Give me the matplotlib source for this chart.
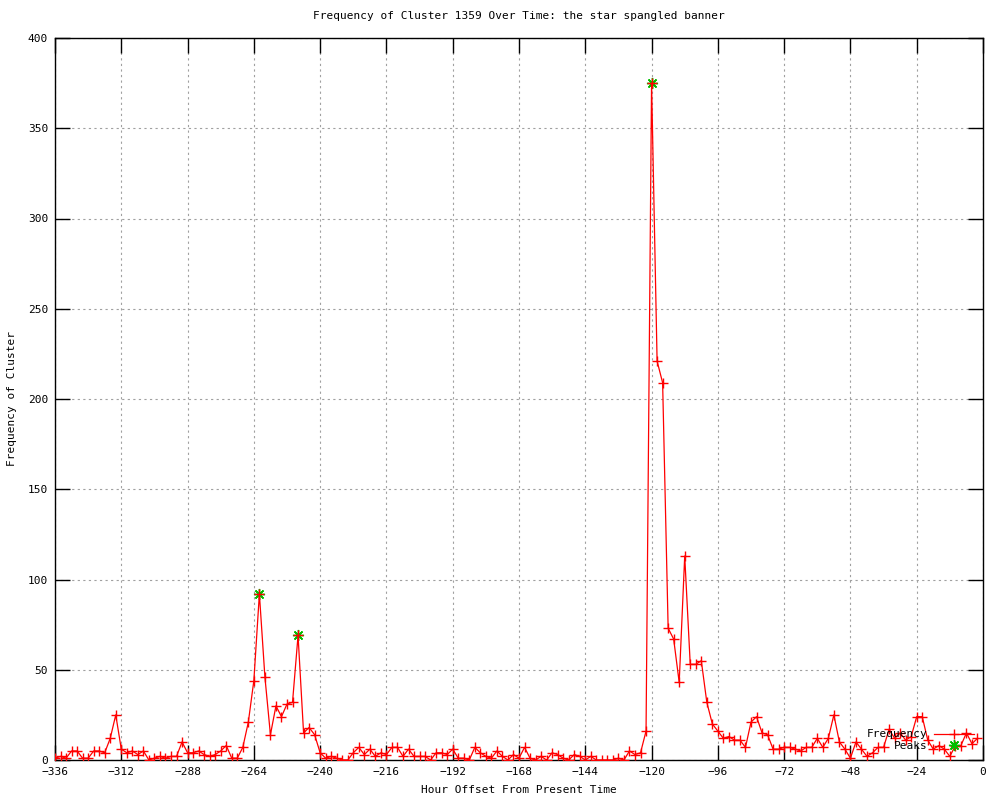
import numpy as np
import matplotlib
matplotlib.use('Agg')
import matplotlib.pyplot as plt
from matplotlib.lines import Line2D

# Hour offsets (every 2 hours) and cluster frequency
hours = np.arange(-336, 0, 2)
freq = [
    # -336 .. -282
    1, 2, 1, 5, 5, 1, 1, 5, 5, 4, 12, 25, 6, 4, 5, 3, 5, 0, 1, 2,
    1, 2, 2, 10, 4, 4, 5, 3,
    # -280 .. -236
    2, 3, 5, 8, 1, 1, 7, 21, 44, 92, 46, 14, 30, 24, 31, 32, 69, 15, 18, 14,
    4, 1, 2,
    # -234 .. -170
    1, 0, 0, 4, 7, 3, 6, 2, 4, 3, 7, 7, 2, 6, 2, 2, 2, 0, 4, 4,
    3, 6, 1, 1, 0, 7, 4, 2, 1, 5, 2, 0, 3,
    # -168 .. -122
    1, 7, 1, 0, 2, 0, 4, 3, 1, 0, 3, 2, 0, 2, 0, 0, 0, 0, 1, 0,
    5, 3, 4, 16,
    # -120 .. -74
    375, 221, 209, 73, 67, 43, 113, 53, 53, 55, 32, 20, 16, 12, 13, 11, 11, 7, 21, 24,
    15, 14, 6, 6,
    # -72 .. -2
    7, 7, 6, 5, 7, 7, 12, 7, 12, 25, 10, 6, 1, 10, 6, 2, 4, 7, 7, 17,
    12, 15, 11, 13, 24, 24, 11, 6, 8, 6, 2, 8, 8, 15, 9, 12,
]
peak_hours = [-262, -248, -120]
peak_vals = [92, 69, 375]

x_ticks = np.arange(-336, 1, 24)
y_ticks = np.arange(0, 401, 50)

plt.rcParams['font.family'] = ['DejaVu Sans Mono']

fig = plt.figure(figsize=(10, 8), dpi=100)
ax = fig.add_axes([0.055, 0.05, 0.928, 0.9025])

star = (8, 2, 0)  # asterisk, like gnuplot point type 3
ax.plot(peak_hours, peak_vals, linestyle='none', marker=star,
        markersize=8, color='#00c000', markeredgewidth=1.0, zorder=2)
ax.plot(hours, freq, color='red', linewidth=0.9, marker='+', markersize=7,
        markeredgewidth=1.0, zorder=3)

ax.set_xlim(-336, 0)
ax.set_ylim(0, 400)
ax.set_xticks(x_ticks)
ax.set_yticks(y_ticks)
ax.tick_params(direction='in', length=11, width=1, top=True, right=True,
               labelsize=8, pad=5)
ax.grid(True, color='#a0a0a0', linestyle=(0, (2, 3)), linewidth=0.8)
for s in ax.spines.values():
    s.set_linewidth(1.0)

ax.set_title('Frequency of Cluster 1359 Over Time: the star spangled banner',
             fontsize=8, pad=14)
ax.set_xlabel('Hour Offset From Present Time', fontsize=8, labelpad=6)
ax.set_ylabel('Frequency of Cluster', fontsize=8, labelpad=8)

handles = [
    Line2D([], [], color='red', linewidth=0.9, marker='+', markersize=7),
    Line2D([], [], linestyle='none', marker=star, markersize=8,
           color='#00c000'),
]
ax.legend(handles, ['Frequency', 'Peaks'], loc='lower right',
          bbox_to_anchor=(1.0, 0.0), frameon=False, markerfirst=False,
          fontsize=8, handlelength=3.6, labelspacing=0.15, borderpad=0.3,
          handletextpad=0.6)

fig.savefig('out.png', dpi=100)
